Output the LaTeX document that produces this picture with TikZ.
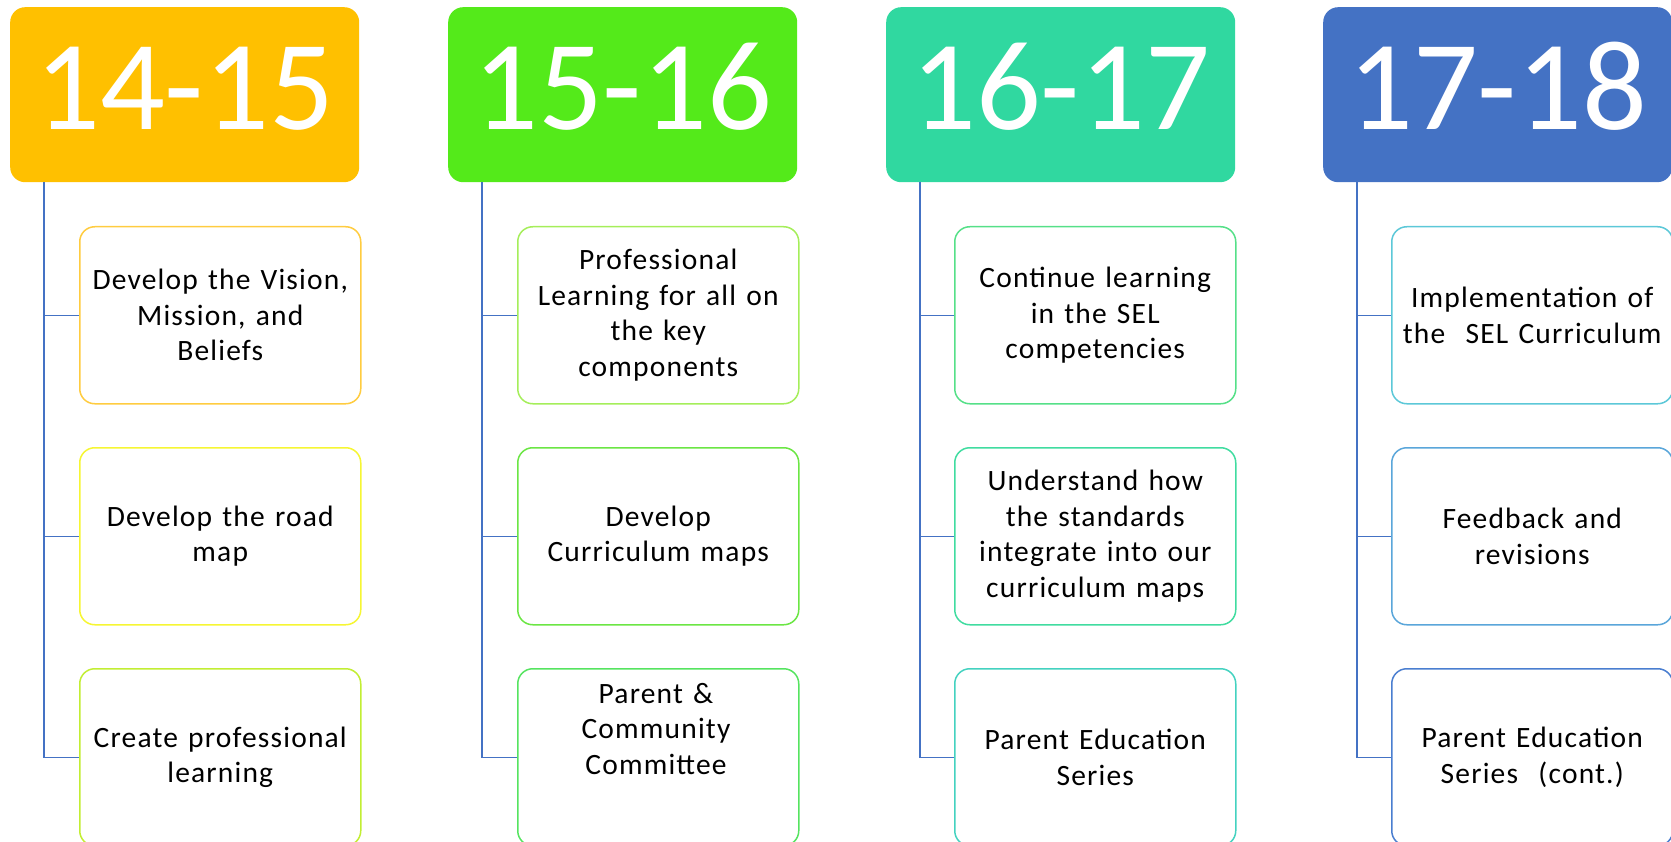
\documentclass[tikz,border=0pt]{standalone}
\usepackage{fontspec}
\setmainfont{Carlito}
\newfontfamily\childfont[LetterSpace=4,WordSpace=1.3]{Carlito}
\definecolor{hA}{HTML}{FFC000}
\definecolor{hB}{HTML}{54EA1A}
\definecolor{hC}{HTML}{30D8A0}
\definecolor{hD}{HTML}{4472C4}
\definecolor{lineblue}{HTML}{4472C4}
\definecolor{bA1}{HTML}{FFCC40}
\definecolor{bA2}{HTML}{F6F633}
\definecolor{bA3}{HTML}{C2EE33}
\definecolor{bB1}{HTML}{A5EE5A}
\definecolor{bB2}{HTML}{6BE644}
\definecolor{bB3}{HTML}{55E460}
\definecolor{bC1}{HTML}{55E088}
\definecolor{bC2}{HTML}{40DCA0}
\definecolor{bC3}{HTML}{44D2C0}
\definecolor{bD1}{HTML}{5CC8D8}
\definecolor{bD2}{HTML}{5AA6DA}
\definecolor{bD3}{HTML}{4A7ED0}
\tikzset{
  header/.style={rounded corners=15pt, minimum width=349pt, minimum height=175pt, inner sep=0pt, anchor=north west},
  yeartext/.style={text=white, font=\fontsize{128}{128}\selectfont, anchor=base, inner sep=0pt},
  childbox/.style={draw, line width=1.5pt, rounded corners=15pt, fill=white, minimum width=281pt, minimum height=177pt, inner sep=2pt, anchor=north west, align=center, font=\childfont\fontsize{29.5}{35.5}\selectfont, text=black},
  childtext/.style={align=center, font=\childfont\fontsize{29.5}{35.5}\selectfont, text=black, inner sep=0pt},
  tree/.style={draw=lineblue, line width=1.4pt}
}
\begin{document}
\begin{tikzpicture}[x=1pt,y=-1pt]
\useasboundingbox (0,0) rectangle (1671,842);
% column 1
\node[header, fill=hA] (h1) at (10,7) {};
\node[yeartext] (t1) at (184.5,130) {14-15};
\node[childbox, draw=bA1] (a1) at (79,226) {Develop the Vision,\\Mission, and\\Beliefs};
\node[childbox, draw=bA2] (a2) at (79,447) {Develop the road\\map};
\node[childbox, draw=bA3] (a3) at (79,668) {Create professional\\learning};
% column 2
\node[header, fill=hB] (h2) at (448,7) {};
\node[yeartext] (t2) at (622.5,130) {15-16};
\node[childbox, draw=bB1] (b1) at (517,226) {Professional\\Learning for all on\\the key\\components};
\node[childbox, draw=bB2] (b2) at (517,447) {Develop\\Curriculum maps};
\node[childbox, draw=bB3] (b3) at (517,668) {};
\node[childtext] (b3t) at (656,729) {Parent \&\\Community\\Committee};
% column 3
\node[header, fill=hC] (h3) at (886,7) {};
\node[yeartext] (t3) at (1060.5,130) {16-17};
\node[childbox, draw=bC1] (c1) at (954,226) {Continue learning\\in the SEL\\competencies};
\node[childbox, draw=bC2] (c2) at (954,447) {Understand how\\the standards\\integrate into our\\curriculum maps};
\node[childbox, draw=bC3] (c3) at (954,668) {Parent Education\\Series};
% column 4
\node[header, fill=hD] (h4) at (1323,7) {};
\node[yeartext] (t4) at (1497.5,130) {17-18};
\node[childbox, draw=bD1] (d1) at (1391,226) {Implementation of\\the\ \ SEL Curriculum};
\node[childbox, draw=bD2] (d2) at (1391,447) {Feedback and\\revisions};
\node[childbox, draw=bD3] (d3) at (1391,668) {Parent Education\\Series\ \ (cont.)};
% connectors
\foreach \h/\p/\q/\r in {h1/a1/a2/a3, h2/b1/b2/b3, h3/c1/c2/c3, h4/d1/d2/d3}{
  \coordinate (\h-top) at ([xshift=34pt]\h.south west);
  \draw[tree] (\h-top) |- (\p.west);
  \draw[tree] (\h-top) |- (\q.west);
  \draw[tree] (\h-top) |- (\r.west);
}
\end{tikzpicture}
\end{document}
